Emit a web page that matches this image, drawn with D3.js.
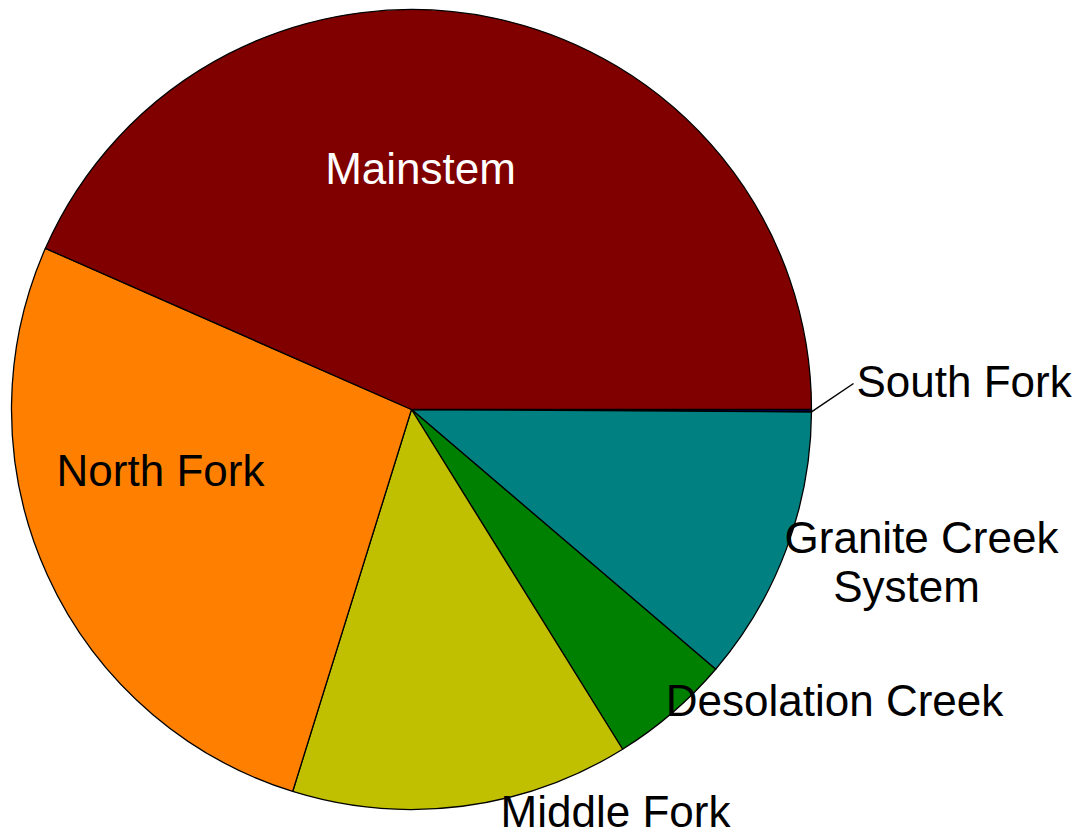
<!DOCTYPE html>
<html>
<head>
<meta charset="utf-8">
<script src="https://cdn.jsdelivr.net/npm/d3@7"></script>
<style>
  html, body { margin: 0; padding: 0; background: #fff; }
  svg { display: block; }
  text { font-family: "Liberation Sans", Arial, sans-serif; }
</style>
</head>
<body>
<svg id="chart" width="1077" height="832"></svg>
<script>
// Share of habitat by stream system (percent)
const categories = ["South Fork", "Granite Creek System", "Desolation Creek", "Middle Fork", "North Fork", "Mainstem"];
const shares     = [0.1, 11.15, 4.9, 13.65, 26.8, 43.4];
const colors     = ["#000080", "#008080", "#008000", "#C0C000", "#FF8000", "#800000"];

const width = 1077, height = 832;
const cx = 411.5, cy = 409.5, radius = 400;

const svg = d3.select("#chart");
const g = svg.append("g").attr("transform", `translate(${cx},${cy})`);

const pie = d3.pie()
  .sort(null)
  .value(d => d.value)
  .startAngle(Math.PI / 2)
  .endAngle(Math.PI / 2 + 2 * Math.PI);

const data = categories.map((c, i) => ({ name: c, value: shares[i], color: colors[i] }));
const arcs = pie(data);

const arc = d3.arc().innerRadius(0).outerRadius(radius);

g.selectAll("path.slice")
  .data(arcs)
  .join("path")
  .attr("class", "slice")
  .attr("d", arc)
  .attr("fill", d => d.data.color)
  .attr("stroke", "#000")
  .attr("stroke-width", 1.3)
  .attr("stroke-linejoin", "round");

// Label placement relative to the pie centre
const fontSize = 44;
const labelSpec = {
  "Mainstem":             { lines: [["Mainstem", 9]], y: -226, anchor: "middle", fill: "#fff" },
  "North Fork":           { lines: [["North Fork", -251]], y: 76, anchor: "middle", fill: "#000" },
  "Middle Fork":          { lines: [["Middle Fork", 204]], y: 417, anchor: "middle", fill: "#000" },
  "Desolation Creek":     { lines: [["Desolation Creek", 423]], y: 306, anchor: "middle", fill: "#000" },
  "Granite Creek System": { lines: [["Granite Creek", 510], ["System", 495]], y: 143, anchor: "middle", fill: "#000" },
  "South Fork":           { lines: [["South Fork", 445]], y: -13, anchor: "start", fill: "#000" }
};

// Leader line for the thin South Fork slice
const sf = arcs.find(d => d.data.name === "South Fork");
const sfMid = (sf.startAngle + sf.endAngle) / 2;
const edge = [radius * Math.sin(sfMid), -radius * Math.cos(sfMid)];
g.append("polyline")
  .attr("points", [[edge[0], edge[1] + 1], [442, -26]].map(p => p.join(",")).join(" "))
  .attr("fill", "none")
  .attr("stroke", "#000")
  .attr("stroke-width", 1.5);

arcs.forEach(d => {
  const s = labelSpec[d.data.name];
  const t = g.append("text")
    .attr("y", s.y)
    .attr("text-anchor", s.anchor)
    .attr("fill", s.fill)
    .attr("font-size", fontSize);
  s.lines.forEach(([line, x], i) => {
    t.append("tspan")
      .attr("x", x)
      .attr("dy", i === 0 ? 0 : 49)
      .text(line);
  });
});
</script>
</body>
</html>
